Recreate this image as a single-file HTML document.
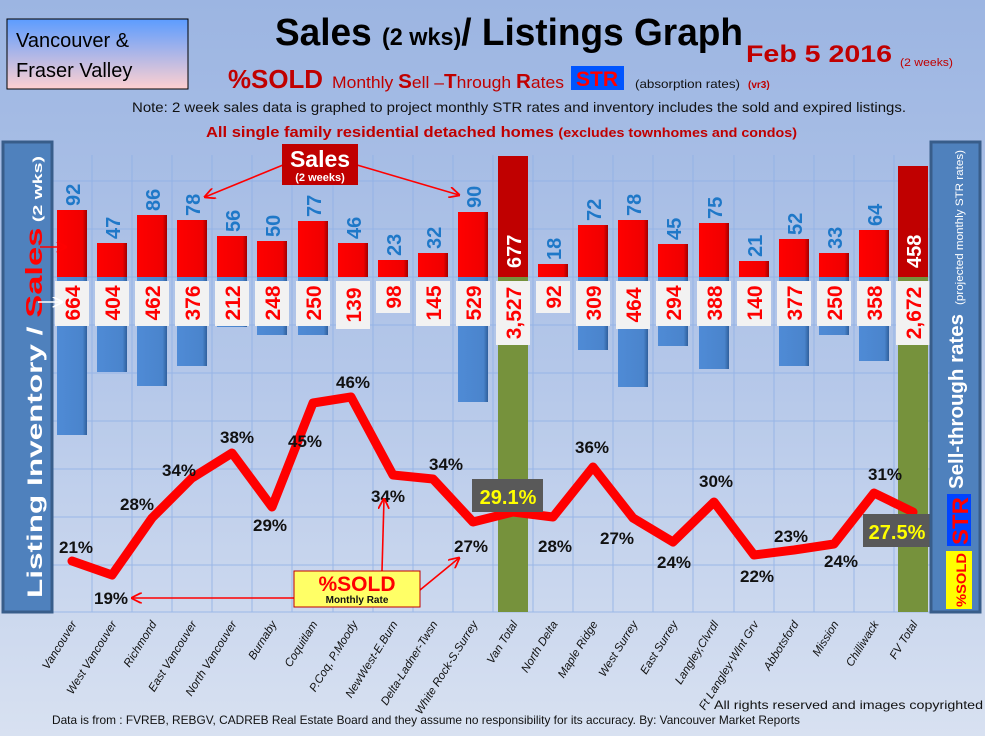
<!DOCTYPE html>
<html><head><meta charset="utf-8"><style>
html,body{margin:0;padding:0;width:985px;height:736px;overflow:hidden}
svg{display:block;font-family:"Liberation Sans",sans-serif}
</style></head><body>
<svg width="985" height="736" viewBox="0 0 985 736" xmlns="http://www.w3.org/2000/svg">
<defs>
<linearGradient id="bg" x1="0" y1="0" x2="0" y2="1"><stop offset="0" stop-color="#9cb5e2"/><stop offset="0.5" stop-color="#b4c7e9"/><stop offset="1" stop-color="#d8e1f1"/></linearGradient>
<linearGradient id="tl" x1="0" y1="0" x2="0" y2="1"><stop offset="0" stop-color="#5c9cff"/><stop offset="1" stop-color="#ffd0d0"/></linearGradient>
<linearGradient id="rb" x1="0" y1="0" x2="1" y2="0"><stop offset="0" stop-color="#ff0000"/><stop offset="0.85" stop-color="#f00000"/><stop offset="1" stop-color="#a00000"/></linearGradient>
<linearGradient id="bb" x1="0" y1="0" x2="1" y2="0"><stop offset="0" stop-color="#4f8bd6"/><stop offset="0.85" stop-color="#4a84cc"/><stop offset="1" stop-color="#2f5f9c"/></linearGradient>
<marker id="ar" viewBox="0 0 10 10" refX="9" refY="5" markerWidth="7" markerHeight="7" orient="auto"><path d="M0,0 L10,5 L0,10" fill="none" stroke="#ff0000" stroke-width="1.6"/></marker>
<marker id="aw" viewBox="0 0 10 10" refX="9" refY="5" markerWidth="7" markerHeight="7" orient="auto"><path d="M0,0 L10,5 L0,10" fill="none" stroke="#ffffff" stroke-width="1.6"/></marker>
</defs>
<rect width="985" height="736" fill="url(#bg)"/>
<g stroke="#8fb0e6" stroke-width="1" opacity="0.8">
<line x1="52" y1="181" x2="930" y2="181"/><line x1="52" y1="229" x2="930" y2="229"/><line x1="52" y1="277" x2="930" y2="277"/><line x1="52" y1="325" x2="930" y2="325"/><line x1="52" y1="373" x2="930" y2="373"/><line x1="52" y1="421" x2="930" y2="421"/><line x1="52" y1="469" x2="930" y2="469"/><line x1="52" y1="517" x2="930" y2="517"/><line x1="52" y1="565" x2="930" y2="565"/><line x1="52" y1="612" x2="930" y2="612"/>
<line x1="92" y1="155" x2="92" y2="612"/><line x1="132" y1="155" x2="132" y2="612"/><line x1="172" y1="155" x2="172" y2="612"/><line x1="212" y1="155" x2="212" y2="612"/><line x1="252" y1="155" x2="252" y2="612"/><line x1="292" y1="155" x2="292" y2="612"/><line x1="333" y1="155" x2="333" y2="612"/><line x1="373" y1="155" x2="373" y2="612"/><line x1="413" y1="155" x2="413" y2="612"/><line x1="453" y1="155" x2="453" y2="612"/><line x1="493" y1="155" x2="493" y2="612"/><line x1="533" y1="155" x2="533" y2="612"/><line x1="573" y1="155" x2="573" y2="612"/><line x1="613" y1="155" x2="613" y2="612"/><line x1="653" y1="155" x2="653" y2="612"/><line x1="693" y1="155" x2="693" y2="612"/><line x1="734" y1="155" x2="734" y2="612"/><line x1="774" y1="155" x2="774" y2="612"/><line x1="814" y1="155" x2="814" y2="612"/><line x1="854" y1="155" x2="854" y2="612"/><line x1="894" y1="155" x2="894" y2="612"/>
</g>
<g fill="url(#bb)">
<rect x="57" y="277" width="30" height="158"/><rect x="97" y="277" width="30" height="95"/><rect x="137" y="277" width="30" height="109"/><rect x="177" y="277" width="30" height="89"/><rect x="217" y="277" width="30" height="50"/><rect x="257" y="277" width="30" height="58"/><rect x="298" y="277" width="30" height="58"/><rect x="458" y="277" width="30" height="125"/><rect x="578" y="277" width="30" height="73"/><rect x="618" y="277" width="30" height="110"/><rect x="658" y="277" width="30" height="69"/><rect x="699" y="277" width="30" height="92"/><rect x="779" y="277" width="30" height="89"/><rect x="819" y="277" width="30" height="58"/><rect x="859" y="277" width="30" height="84"/>
</g>
<rect x="498" y="277" width="30" height="335" fill="#76923c"/><rect x="898" y="277" width="30" height="335" fill="#76923c"/>
<g fill="url(#rb)">
<rect x="57" y="210" width="30" height="67"/><rect x="97" y="243" width="30" height="34"/><rect x="137" y="215" width="30" height="62"/><rect x="177" y="220" width="30" height="57"/><rect x="217" y="236" width="30" height="41"/><rect x="257" y="241" width="30" height="36"/><rect x="298" y="221" width="30" height="56"/><rect x="338" y="243" width="30" height="34"/><rect x="378" y="260" width="30" height="17"/><rect x="418" y="253" width="30" height="24"/><rect x="458" y="212" width="30" height="65"/><rect x="538" y="264" width="30" height="13"/><rect x="578" y="225" width="30" height="52"/><rect x="618" y="220" width="30" height="57"/><rect x="658" y="244" width="30" height="33"/><rect x="699" y="223" width="30" height="54"/><rect x="739" y="261" width="30" height="16"/><rect x="779" y="239" width="30" height="38"/><rect x="819" y="253" width="30" height="24"/><rect x="859" y="230" width="30" height="47"/>
</g>
<rect x="498" y="156" width="30" height="121" fill="#c00000"/><rect x="898" y="166" width="30" height="111" fill="#c00000"/>
<g font-size="20" font-weight="bold" fill="#1f78c8">
<text transform="translate(80,206) rotate(-90)">92</text><text transform="translate(120,239) rotate(-90)">47</text><text transform="translate(160,211) rotate(-90)">86</text><text transform="translate(200,216) rotate(-90)">78</text><text transform="translate(240,232) rotate(-90)">56</text><text transform="translate(280,237) rotate(-90)">50</text><text transform="translate(321,217) rotate(-90)">77</text><text transform="translate(361,239) rotate(-90)">46</text><text transform="translate(401,256) rotate(-90)">23</text><text transform="translate(441,249) rotate(-90)">32</text><text transform="translate(481,208) rotate(-90)">90</text><text transform="translate(561,260) rotate(-90)">18</text><text transform="translate(601,221) rotate(-90)">72</text><text transform="translate(641,216) rotate(-90)">78</text><text transform="translate(681,240) rotate(-90)">45</text><text transform="translate(722,219) rotate(-90)">75</text><text transform="translate(762,257) rotate(-90)">21</text><text transform="translate(802,235) rotate(-90)">52</text><text transform="translate(842,249) rotate(-90)">33</text><text transform="translate(882,226) rotate(-90)">64</text>
</g>
<g font-size="20" font-weight="bold" fill="#ffffff">
<text transform="translate(521,268) rotate(-90)">677</text><text transform="translate(921,268) rotate(-90)">458</text>
</g>
<g fill="#f2f2f2">
<rect x="55" y="281" width="34" height="45"/><rect x="95" y="281" width="34" height="45"/><rect x="135" y="281" width="34" height="45"/><rect x="175" y="281" width="34" height="45"/><rect x="215" y="281" width="34" height="45"/><rect x="255" y="281" width="34" height="45"/><rect x="296" y="281" width="34" height="45"/><rect x="336" y="281" width="34" height="48"/><rect x="376" y="281" width="34" height="32"/><rect x="416" y="281" width="34" height="45"/><rect x="456" y="281" width="34" height="45"/><rect x="496" y="281" width="34" height="64"/><rect x="536" y="281" width="34" height="32"/><rect x="576" y="281" width="34" height="45"/><rect x="616" y="281" width="34" height="48"/><rect x="656" y="281" width="34" height="45"/><rect x="697" y="281" width="34" height="45"/><rect x="737" y="281" width="34" height="45"/><rect x="777" y="281" width="34" height="45"/><rect x="817" y="281" width="34" height="45"/><rect x="857" y="281" width="34" height="45"/><rect x="896" y="281" width="34" height="64"/>
</g>
<g font-size="21" font-weight="bold" fill="#ff0000" text-anchor="middle">
<text transform="translate(80,303) rotate(-90)">664</text><text transform="translate(120,303) rotate(-90)">404</text><text transform="translate(160,303) rotate(-90)">462</text><text transform="translate(200,303) rotate(-90)">376</text><text transform="translate(240,303) rotate(-90)">212</text><text transform="translate(280,303) rotate(-90)">248</text><text transform="translate(321,303) rotate(-90)">250</text><text transform="translate(361,305) rotate(-90)">139</text><text transform="translate(401,297) rotate(-90)">98</text><text transform="translate(441,303) rotate(-90)">145</text><text transform="translate(481,303) rotate(-90)">529</text><text transform="translate(521,313) rotate(-90)">3,527</text><text transform="translate(561,297) rotate(-90)">92</text><text transform="translate(601,303) rotate(-90)">309</text><text transform="translate(641,305) rotate(-90)">464</text><text transform="translate(681,303) rotate(-90)">294</text><text transform="translate(722,303) rotate(-90)">388</text><text transform="translate(762,303) rotate(-90)">140</text><text transform="translate(802,303) rotate(-90)">377</text><text transform="translate(842,303) rotate(-90)">250</text><text transform="translate(882,303) rotate(-90)">358</text><text transform="translate(921,313) rotate(-90)">2,672</text>
</g>
<polyline points="72,561 112,575 152,518 192,478 232,453 272,507 313,403 351,397 393,475 433,479 473,522 513,512 553,517 593,467 633,518 673,542 714,502 754,555 794,550 834,544 874,493 913,512" fill="none" stroke="#ff0000" stroke-width="9" stroke-linejoin="round" stroke-linecap="round"/>
<g font-size="17" font-weight="bold" fill="#111" text-anchor="middle">
<text x="76" y="553">21%</text><text x="111" y="604">19%</text><text x="137" y="510">28%</text><text x="179" y="476">34%</text><text x="237" y="443">38%</text><text x="270" y="531">29%</text><text x="305" y="447">45%</text><text x="353" y="388">46%</text><text x="388" y="502">34%</text><text x="446" y="470">34%</text><text x="471" y="552">27%</text><text x="555" y="552">28%</text><text x="592" y="453">36%</text><text x="617" y="544">27%</text><text x="674" y="568">24%</text><text x="716" y="487">30%</text><text x="757" y="582">22%</text><text x="791" y="542">23%</text><text x="841" y="567">24%</text><text x="885" y="480">31%</text>
</g>
<rect x="472" y="479" width="71" height="33" fill="#595959"/><text x="508" y="504" font-size="20" font-weight="bold" fill="#ffff00" text-anchor="middle">29.1%</text>
<rect x="863" y="514" width="67" height="33" fill="#595959"/><text x="897" y="539" font-size="20" font-weight="bold" fill="#ffff00" text-anchor="middle">27.5%</text>
<g stroke="#ff0000" stroke-width="1.6" fill="none" marker-end="url(#ar)">
<line x1="283" y1="165" x2="205" y2="197"/><line x1="357" y1="165" x2="459" y2="195"/>
<line x1="294" y1="598" x2="132" y2="598"/><line x1="382" y1="571" x2="384" y2="499"/><line x1="420" y1="590" x2="459" y2="558"/>
<line x1="961" y1="522" x2="933" y2="522"/>
</g>
<rect x="282" y="144" width="76" height="41" fill="#c00000"/>
<text x="320" y="167" font-size="23" font-weight="bold" fill="#fff" text-anchor="middle">Sales</text>
<text x="320" y="181" font-size="11" font-weight="bold" fill="#fff" text-anchor="middle">(2 weeks)</text>
<rect x="294" y="571" width="126" height="36" fill="#ffff66" stroke="#c00000" stroke-width="1"/>
<text x="357" y="591" font-size="21" font-weight="bold" fill="#ff0000" text-anchor="middle">%SOLD</text>
<text x="357" y="603" font-size="10" font-weight="bold" fill="#111" text-anchor="middle">Monthly Rate</text>
<rect x="3" y="142" width="49" height="470" fill="#4f81bd" stroke="#385d8a" stroke-width="3"/>
<text transform="translate(42,598) rotate(-90)" font-size="21" font-weight="bold" fill="#fff" textLength="442" lengthAdjust="spacingAndGlyphs">Listing Inventory / <tspan fill="#ff0000" font-size="23">Sales</tspan><tspan font-size="13"> (2  wks)</tspan></text>
<line x1="40" y1="247" x2="66" y2="247" stroke="#ff0000" stroke-width="1.5" marker-end="url(#ar)"/>
<line x1="38" y1="302" x2="62" y2="302" stroke="#fff" stroke-width="1.5" marker-end="url(#aw)"/>
<rect x="931" y="142" width="49" height="470" fill="#4f81bd" stroke="#385d8a" stroke-width="3"/>
<text transform="translate(963,489) rotate(-90)" font-size="20" font-weight="bold" fill="#fff" textLength="175" lengthAdjust="spacingAndGlyphs">Sell-through rates</text>
<text transform="translate(963,305) rotate(-90)" font-size="11" fill="#fff" textLength="155" lengthAdjust="spacingAndGlyphs">(projected monthly STR rates)</text>
<rect x="947" y="494" width="24" height="52" fill="#0044ff"/>
<text transform="translate(968,545) rotate(-90)" font-size="22" font-weight="bold" fill="#ff0000" textLength="48" lengthAdjust="spacingAndGlyphs">STR</text>
<rect x="946" y="551" width="26" height="58" fill="#ffff00"/>
<text transform="translate(966,607) rotate(-90)" font-size="14" font-weight="bold" fill="#ff0000" textLength="54" lengthAdjust="spacingAndGlyphs">%SOLD</text>
<rect x="7" y="19" width="181" height="70" fill="url(#tl)" stroke="#000" stroke-width="1"/>
<text x="16" y="47" font-size="20" fill="#000">Vancouver &amp;</text>
<text x="16" y="77" font-size="20" fill="#000">Fraser Valley</text>
<text x="275" y="45" font-size="38" font-weight="bold" fill="#000" textLength="468" lengthAdjust="spacingAndGlyphs">Sales <tspan font-size="24">(2 wks)</tspan>/ Listings Graph</text>
<text x="746" y="62" font-size="24" font-weight="bold" fill="#c00000" textLength="146" lengthAdjust="spacingAndGlyphs">Feb 5 2016</text>
<text x="900" y="66" font-size="11" fill="#c00000" textLength="53" lengthAdjust="spacingAndGlyphs">(2 weeks)</text>
<text x="228" y="88" font-size="26" font-weight="bold" fill="#c00000" textLength="95" lengthAdjust="spacingAndGlyphs">%SOLD</text>
<text x="332" y="88" font-size="17" fill="#c00000" textLength="232" lengthAdjust="spacingAndGlyphs">Monthly <tspan font-weight="bold" font-size="20">S</tspan>ell –<tspan font-weight="bold" font-size="20">T</tspan>hrough <tspan font-weight="bold" font-size="20">R</tspan>ates</text>
<rect x="571" y="66" width="53" height="24" fill="#0055ff"/>
<text x="597" y="86" font-size="21" font-weight="bold" fill="#ff0000" text-anchor="middle">STR</text>
<text x="635" y="88" font-size="12" fill="#111" textLength="105" lengthAdjust="spacingAndGlyphs">(absorption rates)</text>
<text x="748" y="88" font-size="10" font-weight="bold" fill="#c00000">(vr3)</text>
<text x="132" y="112" font-size="14" fill="#111" textLength="774" lengthAdjust="spacingAndGlyphs">Note: 2 week sales data is graphed to project monthly STR rates and inventory includes the sold and expired listings.</text>
<text x="206" y="137" font-size="15" font-weight="bold" fill="#c00000" textLength="591" lengthAdjust="spacingAndGlyphs">All single family residential detached homes <tspan font-size="13">(excludes townhomes and condos)</tspan></text>
<g font-size="11.5" font-style="italic" fill="#111" text-anchor="end">
<text transform="translate(77,624) rotate(-58)">Vancouver</text><text transform="translate(117,624) rotate(-58)">West Vancouver</text><text transform="translate(157,624) rotate(-58)">Richmond</text><text transform="translate(197,624) rotate(-58)">East Vancouver</text><text transform="translate(237,624) rotate(-58)">North Vancouver</text><text transform="translate(277,624) rotate(-58)">Burnaby</text><text transform="translate(318,624) rotate(-58)">Coquitlam</text><text transform="translate(358,624) rotate(-58)">P.Coq, P.Moody</text><text transform="translate(398,624) rotate(-58)">NewWest-E.Burn</text><text transform="translate(438,624) rotate(-58)">Delta-Ladner-Twsn</text><text transform="translate(478,624) rotate(-58)">White Rock-S.Surrey</text><text transform="translate(518,624) rotate(-58)">Van Total</text><text transform="translate(558,624) rotate(-58)">North Delta</text><text transform="translate(598,624) rotate(-58)">Maple Ridge</text><text transform="translate(638,624) rotate(-58)">West Surrey</text><text transform="translate(678,624) rotate(-58)">East Surrey</text><text transform="translate(719,624) rotate(-58)">Langley,Clvrdl</text><text transform="translate(759,624) rotate(-58)">Ft Langley-Wlnt Grv</text><text transform="translate(799,624) rotate(-58)">Abbotsford</text><text transform="translate(839,624) rotate(-58)">Mission</text><text transform="translate(879,624) rotate(-58)">Chilliwack</text><text transform="translate(918,624) rotate(-58)">FV Total</text>
</g>
<text x="714" y="709" font-size="12" fill="#111" textLength="269" lengthAdjust="spacingAndGlyphs">All rights reserved and  images copyrighted</text>
<text x="52" y="724" font-size="12" fill="#111" textLength="748" lengthAdjust="spacingAndGlyphs">Data is from : FVREB, REBGV, CADREB Real Estate Board and they assume no responsibility for its accuracy. By: Vancouver Market Reports</text>
</svg>
</body></html>
